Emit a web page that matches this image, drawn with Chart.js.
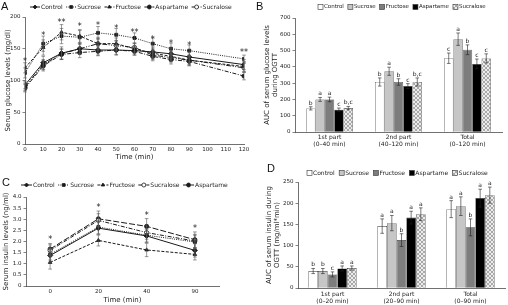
<!DOCTYPE html>
<html>
<head>
<meta charset="utf-8">
<script src="https://cdn.jsdelivr.net/npm/chart.js@4.4.0/dist/chart.umd.min.js"></script>
<style>
  body { margin: 0; background: #fff; width: 508px; height: 305px; position: relative; overflow: hidden; }
  canvas { position: absolute; }
  .tag { position: absolute; font: 11px "Liberation Sans", sans-serif; color: #111; line-height: 11px; }
</style>
</head>
<body>
<canvas id="chartA" width="254" height="165" style="left:0;top:0"></canvas>
<canvas id="chartB" width="254" height="150" style="left:254px;top:0"></canvas>
<canvas id="chartC" width="254" height="140" style="left:0;top:165px"></canvas>
<canvas id="chartD" width="254" height="155" style="left:254px;top:150px"></canvas>
<div class="tag" style="left:1px;top:1px">A</div>
<div class="tag" style="left:256px;top:1px">B</div>
<div class="tag" style="left:2px;top:177px">C</div>
<div class="tag" style="left:267px;top:163px">D</div>
<script>
// ---- A: serum glucose during OGTT ----
const timesA = [0, 10, 20, 30, 40, 50, 60, 70, 80, 90, 120];
const gluControl = [93, 128, 143, 150, 148, 148, 147, 145, 142, 137, 125];
const gluSucrose = [112, 158, 170, 168, 175, 172, 167, 158, 150, 147, 134];
const gluFructose = [120, 152, 176, 170, 158, 158, 150, 143, 138, 132, 122];
const gluAspartame = [88, 123, 141, 144, 146, 148, 146, 138, 133, 130, 107];
const gluSucralose = [90, 125, 142, 150, 158, 155, 152, 140, 136, 132, 120];
const gluControlErr = [6, 10, 10, 9, 8, 8, 7, 8, 8, 8, 8];
const gluSucroseErr = [8, 12, 12, 11, 10, 10, 8, 9, 9, 9, 6];
const gluFructoseErr = [8, 12, 12, 10, 10, 9, 8, 8, 8, 8, 8];
const gluAspartameErr = [6, 8, 8, 8, 7, 7, 6, 7, 7, 7, 6];
const gluSucraloseErr = [6, 8, 8, 8, 8, 8, 7, 7, 7, 7, 7];
const starsA = ["*", "*", "**", "*", "*", "*", "**", "*", "*", "*", "**"];
const starsAY = [133, 174, 195, 188, 190, 185, 179, 168, 161, 158, 148];
const ticksA = [0, 50, 100, 150, 200];

// ---- B: AUC of glucose ----
const partsB = [["1st part", "(0–40 min)"], ["2nd part", "(40–120 min)"], ["Total", "(0–120 min)"]];
const aucGluControl = [145, 307, 453];
const aucGluSucrose = [200, 373, 570];
const aucGluFructose = [200, 307, 505];
const aucGluAspartame = [137, 282, 418];
const aucGluSucralose = [147, 307, 452];
const aucGluControlErr = [10, 25, 32];
const aucGluSucroseErr = [12, 25, 38];
const aucGluFructoseErr = [14, 20, 30];
const aucGluAspartameErr = [10, 15, 30];
const aucGluSucraloseErr = [10, 25, 28];
const lettersBControl = ["b", "b", "c"];
const lettersBSucrose = ["a", "a", "a"];
const lettersBFructose = ["a", "b", "b"];
const lettersBAspartame = ["c", "c", "c"];
const lettersBSucralose = ["b,c", "b,c", "c"];

// ---- C: serum insulin ----
const timesC = ["0", "20", "40", "90"];
const insControl = [1.37, 2.6, 2.25, 1.6];
const insSucrose = [1.42, 2.65, 2.28, 1.98];
const insFructose = [1.06, 2.05, 1.62, 1.42];
const insSucralose = [1.6, 2.95, 2.4, 2.02];
const insAspartame = [1.66, 3.02, 2.68, 2.08];
const insControlErr = [0.3, 0.3, 0.3, 0.3];
const insSucroseErr = [0.25, 0.3, 0.3, 0.3];
const insFructoseErr = [0.3, 0.25, 0.3, 0.25];
const insSucraloseErr = [0.25, 0.3, 0.3, 0.3];
const insAspartameErr = [0.25, 0.35, 0.35, 0.35];
const starsC = ["*", "*", "*", "*"];
const starsCY = [2.18, 3.63, 3.28, 2.69];

// ---- D: AUC of insulin ----
const partsD = [["1st part", "(0–20 min)"], ["2nd part", "(20–90 min)"], ["Total", "(0–90 min)"]];
const aucInsControl = [40, 146, 186];
const aucInsSucrose = [40, 153, 193];
const aucInsFructose = [32, 113, 143];
const aucInsAspartame = [46, 166, 212];
const aucInsSucralose = [47, 174, 219];
const aucInsControlErr = [6, 17, 20];
const aucInsSucroseErr = [6, 18, 22];
const aucInsFructoseErr = [6, 15, 20];
const aucInsAspartameErr = [6, 15, 21];
const aucInsSucraloseErr = [5, 15, 19];
const lettersDControl = ["b", "a", "a"];
const lettersDSucrose = ["b", "a", "a"];
const lettersDFructose = ["c", "b", "b"];
const lettersDAspartame = ["a", "a", "a"];
const lettersDSucralose = ["a", "a", "a"];

Chart.defaults.font.family = "'DejaVu Sans', sans-serif";
Chart.defaults.font.size = 5.5;
Chart.defaults.color = "#222";
Chart.defaults.animation = false;

const ink = "#1a1a1a";

// light dotted fill used for sucralose bars
function sucralosePattern() {
  const c = document.createElement("canvas");
  c.width = 4; c.height = 4;
  const g = c.getContext("2d");
  g.fillStyle = "#ececec";
  g.fillRect(0, 0, 4, 4);
  g.fillStyle = "#a8a8a8";
  for (let i = 0; i < 4; i++) {
    g.fillRect(i, i, 1, 1);
    g.fillRect(i, 3 - i, 1, 1);
  }
  return g.createPattern(c, "repeat");
}
const hatch = sucralosePattern();

// error bars for every dataset that has an `errors` array
const errorBars = {
  id: "errorBars",
  afterDatasetsDraw(chart) {
    const ctx = chart.ctx;
    const y = chart.scales.y;
    ctx.save();
    chart.data.datasets.forEach((ds, i) => {
      if (!ds.errors) return;
      chart.getDatasetMeta(i).data.forEach((el, j) => {
        const raw = ds.data[j];
        const v = typeof raw === "object" ? raw.y : raw;
        const e = ds.errors[j];
        const top = y.getPixelForValue(v + e);
        const bot = y.getPixelForValue(v - e);
        ctx.strokeStyle = ds.errorColor || "#333";
        ctx.lineWidth = 0.6;
        ctx.beginPath();
        ctx.moveTo(el.x, top); ctx.lineTo(el.x, bot);
        ctx.moveTo(el.x - 1.8, top); ctx.lineTo(el.x + 1.8, top);
        ctx.moveTo(el.x - 1.8, bot); ctx.lineTo(el.x + 1.8, bot);
        ctx.stroke();
        if (ds.letters) {
          ctx.fillStyle = "#222";
          ctx.font = "6px 'DejaVu Sans'";
          ctx.textAlign = "center";
          ctx.textBaseline = "alphabetic";
          ctx.fillText(ds.letters[j], el.x, top - 2);
        }
      });
    });
    ctx.restore();
  }
};

// significance asterisks above time points
const stars = {
  id: "stars",
  afterDatasetsDraw(chart, args, opts) {
    if (!opts.labels) return;
    const ctx = chart.ctx;
    ctx.save();
    ctx.fillStyle = "#222";
    ctx.font = "8px 'DejaVu Sans'";
    ctx.textAlign = "center";
    ctx.textBaseline = "alphabetic";
    opts.labels.forEach((s, i) => {
      const px = chart.scales.x.getPixelForValue(opts.xs[i], i);
      const py = chart.scales.y.getPixelForValue(opts.ys[i]);
      ctx.fillText(s, px, py + 4.5);
    });
    ctx.restore();
  }
};

// legend drawn in one row above the plot
const rowLegend = {
  id: "rowLegend",
  afterDraw(chart, args, opts) {
    if (!opts.kind) return;
    const ctx = chart.ctx;
    ctx.save();
    ctx.font = opts.size + "px 'DejaVu Sans'";
    ctx.textBaseline = "middle";
    ctx.textAlign = "left";
    let x = opts.x;
    const y = opts.y;
    chart.data.datasets.forEach(ds => {
      if (opts.kind === "line") {
        ctx.strokeStyle = ds.borderColor;
        ctx.lineWidth = 1;
        ctx.setLineDash(ds.borderDash || []);
        ctx.beginPath();
        ctx.moveTo(x, y); ctx.lineTo(x + opts.sample, y);
        ctx.stroke();
        ctx.setLineDash([]);
        ctx.fillStyle = ds.pointBackgroundColor;
        ctx.strokeStyle = ds.pointBorderColor;
        ctx.lineWidth = 0.8;
        Chart.helpers.drawPoint(ctx, { pointStyle: ds.pointStyle, radius: 2, rotation: 0, borderWidth: 0.8 }, x + opts.sample / 2, y);
        x += opts.sample + 1;
      } else {
        ctx.fillStyle = ds.backgroundColor;
        ctx.fillRect(x, y - 2.5, 5, 5);
        ctx.strokeStyle = "#333";
        ctx.lineWidth = 0.6;
        ctx.strokeRect(x, y - 2.5, 5, 5);
        x += 6;
      }
      ctx.fillStyle = "#222";
      ctx.fillText(ds.label, x, y);
      x += ctx.measureText(ds.label).width + opts.gap;
    });
    ctx.restore();
  }
};

Chart.register(errorBars, stars, rowLegend);

function lineSet(label, values, xs, errors, dash, style, fill) {
  return {
    label,
    data: xs ? values.map((v, i) => ({ x: xs[i], y: v })) : values,
    errors,
    borderColor: ink,
    borderWidth: 1,
    borderDash: dash,
    pointStyle: style,
    pointRadius: style === "rectRot" ? 2.6 : 2.1,
    pointBackgroundColor: fill,
    pointBorderColor: ink,
    pointBorderWidth: 0.8,
    errorColor: "#555"
  };
}

function barSet(label, values, errors, letters, color) {
  return {
    label,
    data: values,
    errors,
    letters,
    backgroundColor: color,
    borderColor: "#3a3a3a",
    borderWidth: 0.6,
    errorColor: "#222"
  };
}

// fixed plot boxes so the four panels line up with the figure
function yAxis(min, max, step, title, titlePad, width) {
  return {
    min, max,
    ticks: { stepSize: step, padding: 2, font: { size: 5.5 } },
    grid: { drawOnChartArea: false, tickLength: 2.5, color: "#333", lineWidth: 0.6 },
    border: { color: "#333", width: 0.7 },
    title: { display: true, text: title, font: { size: 7 }, padding: { top: titlePad, bottom: 0 } },
    afterFit: s => { s.width = width; }
  };
}

function xAxis(height, labelPad, labelSize, title, titlePadBottom) {
  const axis = {
    ticks: { padding: labelPad, font: { size: labelSize }, maxRotation: 0, autoSkip: false },
    grid: { display: false, drawTicks: false, tickLength: 0 },
    border: { color: "#333", width: 0.7 },
    afterFit: s => { s.height = height; }
  };
  if (title) {
    axis.title = { display: true, text: title, font: { size: 7 }, padding: { top: 0, bottom: titlePadBottom } };
  }
  return axis;
}

// ---- A ----
const xA = xAxis(21, 2, 5.5, "Time (min)", 3.5);
xA.type = "linear";
xA.min = 0;
xA.max = 120;
xA.ticks.stepSize = 10;

new Chart(document.getElementById("chartA"), {
  type: "line",
  data: {
    datasets: [
      lineSet("Control", gluControl, timesA, gluControlErr, [], "rectRot", ink),
      lineSet("Sucrose", gluSucrose, timesA, gluSucroseErr, [1, 1.2], "rect", ink),
      lineSet("Fructose", gluFructose, timesA, gluFructoseErr, [3, 1.5], "triangle", ink),
      lineSet("Aspartame", gluAspartame, timesA, gluAspartameErr, [4, 1.5, 1, 1.5], "circle", ink),
      lineSet("Sucralose", gluSucralose, timesA, gluSucraloseErr, [5, 1.5, 1, 1.5, 1, 1.5], "circle", "#fff")
    ]
  },
  options: {
    responsive: false,
    layout: { padding: { top: 17, right: 10, left: 0, bottom: 0 } },
    plugins: {
      legend: { display: false },
      tooltip: { enabled: false },
      stars: { labels: starsA, xs: timesA, ys: starsAY },
      rowLegend: { kind: "line", x: 30, y: 7, sample: 10, gap: 3.5, size: 6 }
    },
    scales: {
      x: xA,
      y: Object.assign(yAxis(0, 200, 50, "Serum glucose levels (mg/dl)", 4, 25), { afterBuildTicks: s => { s.ticks = ticksA.map(v => ({ value: v })); } })
    }
  }
});

// ---- B ----
new Chart(document.getElementById("chartB"), {
  type: "bar",
  data: {
    labels: partsB,
    datasets: [
      barSet("Control", aucGluControl, aucGluControlErr, lettersBControl, "#ffffff"),
      barSet("Sucrose", aucGluSucrose, aucGluSucroseErr, lettersBSucrose, "#c6c6c6"),
      barSet("Fructose", aucGluFructose, aucGluFructoseErr, lettersBFructose, "#7d7d7d"),
      barSet("Aspartame", aucGluAspartame, aucGluAspartameErr, lettersBAspartame, "#000000"),
      barSet("Sucralose", aucGluSucralose, aucGluSucraloseErr, lettersBSucralose, hatch)
    ]
  },
  options: {
    responsive: false,
    datasets: { bar: { categoryPercentage: 0.68, barPercentage: 1 } },
    layout: { padding: { top: 18, right: 6, left: 0, bottom: 0 } },
    plugins: {
      legend: { display: false },
      tooltip: { enabled: false },
      rowLegend: { kind: "bar", x: 64, y: 7, gap: 4, size: 5.5 }
    },
    scales: {
      x: xAxis(18, 2, 6),
      y: yAxis(0, 700, 100, ["AUC of serum glucose levels", "during OGTT"], 8.5, 41)
    }
  }
});

// ---- C ----
const xC = xAxis(19, 2, 5.5, "Time (min)", 0.5);
xC.offset = true;

new Chart(document.getElementById("chartC"), {
  type: "line",
  data: {
    labels: timesC,
    datasets: [
      lineSet("Control", insControl, null, insControlErr, [], "rectRot", ink),
      lineSet("Sucrose", insSucrose, null, insSucroseErr, [1, 1.2], "rect", ink),
      lineSet("Fructose", insFructose, null, insFructoseErr, [3, 1.5], "triangle", ink),
      lineSet("Sucralose", insSucralose, null, insSucraloseErr, [4, 1.5, 1, 1.5], "circle", "#fff"),
      lineSet("Aspartame", insAspartame, null, insAspartameErr, [6, 2], "circle", ink)
    ]
  },
  options: {
    responsive: false,
    layout: { padding: { top: 32, right: 35, left: 0, bottom: 0 } },
    plugins: {
      legend: { display: false },
      tooltip: { enabled: false },
      stars: { labels: starsC, xs: timesC, ys: starsCY },
      rowLegend: { kind: "line", x: 21, y: 20, sample: 11, gap: 3.5, size: 6 }
    },
    scales: {
      x: xC,
      y: yAxis(0, 4, 0.5, "Serum insulin levels (ng/ml)", 2, 26)
    }
  }
});

// ---- D ----
new Chart(document.getElementById("chartD"), {
  type: "bar",
  data: {
    labels: partsD,
    datasets: [
      barSet("Control", aucInsControl, aucInsControlErr, lettersDControl, "#ffffff"),
      barSet("Sucrose", aucInsSucrose, aucInsSucroseErr, lettersDSucrose, "#c6c6c6"),
      barSet("Fructose", aucInsFructose, aucInsFructoseErr, lettersDFructose, "#7d7d7d"),
      barSet("Aspartame", aucInsAspartame, aucInsAspartameErr, lettersDAspartame, "#000000"),
      barSet("Sucralose", aucInsSucralose, aucInsSucraloseErr, lettersDSucralose, hatch)
    ]
  },
  options: {
    responsive: false,
    datasets: { bar: { categoryPercentage: 0.7, barPercentage: 1 } },
    layout: { padding: { top: 32, right: 3, left: 0, bottom: 0 } },
    plugins: {
      legend: { display: false },
      tooltip: { enabled: false },
      rowLegend: { kind: "bar", x: 53, y: 23, gap: 4.5, size: 6 }
    },
    scales: {
      x: xAxis(17, 3, 6),
      y: yAxis(0, 250, 50, ["AUC of serum insulin during", "OGTT (mg/ml*min)"], 10.5, 44)
    }
  }
});
</script>
</body>
</html>
